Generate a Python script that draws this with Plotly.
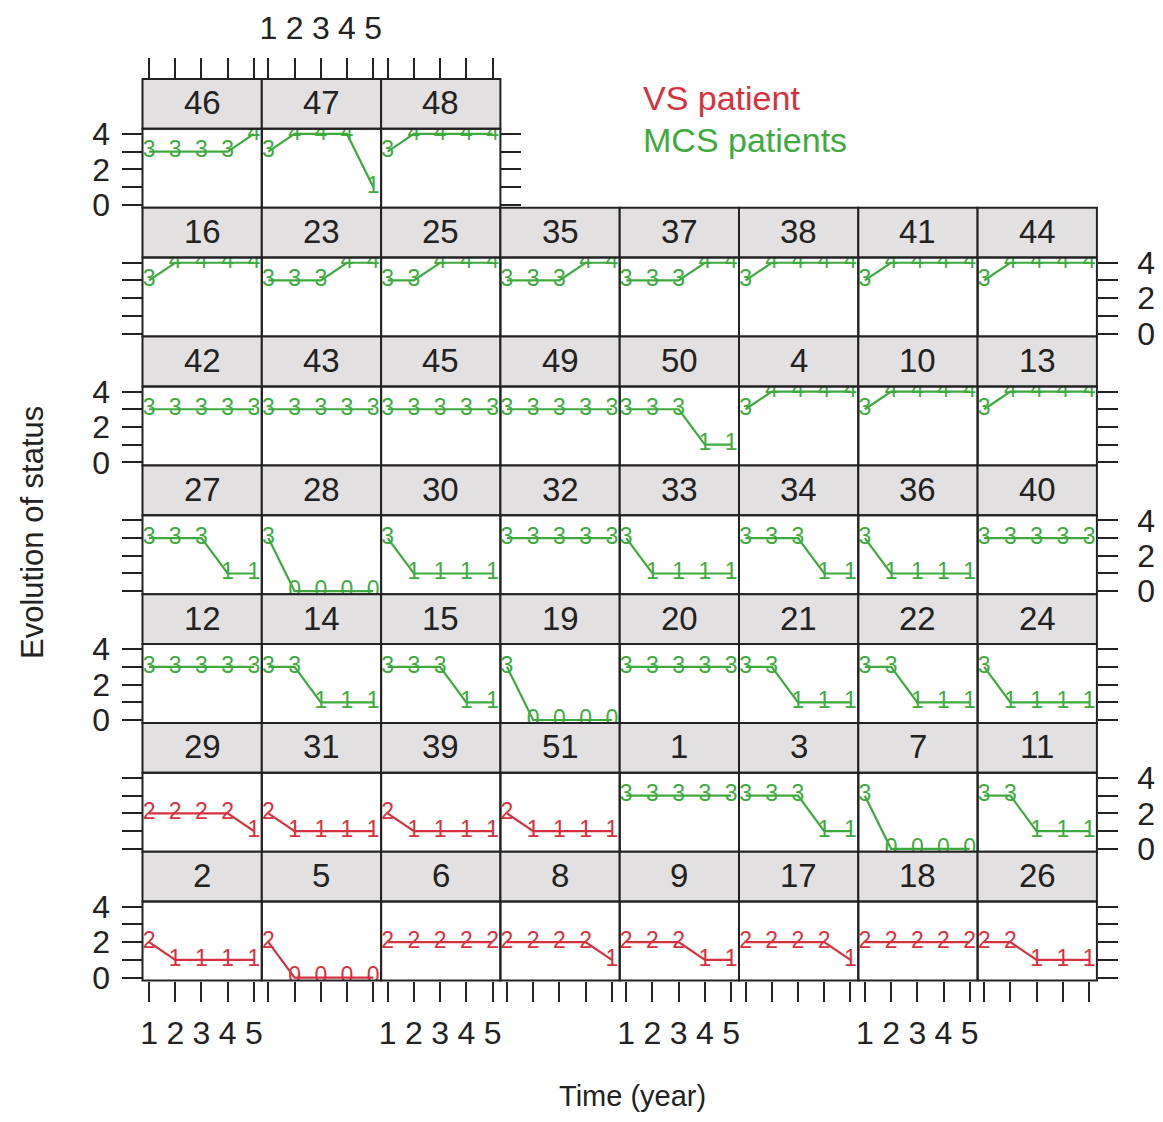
import plotly.graph_objects as go

# ---------------- data ----------------
years = [1, 2, 3, 4, 5]

panel_rows = [
    [46, 47, 48],
    [16, 23, 25, 35, 37, 38, 41, 44],
    [42, 43, 45, 49, 50, 4, 10, 13],
    [27, 28, 30, 32, 33, 34, 36, 40],
    [12, 14, 15, 19, 20, 21, 22, 24],
    [29, 31, 39, 51, 1, 3, 7, 11],
    [2, 5, 6, 8, 9, 17, 18, 26],
]

status = {
    46: [3, 3, 3, 3, 4], 47: [3, 4, 4, 4, 1], 48: [3, 4, 4, 4, 4],
    16: [3, 4, 4, 4, 4], 23: [3, 3, 3, 4, 4], 25: [3, 3, 4, 4, 4], 35: [3, 3, 3, 4, 4],
    37: [3, 3, 3, 4, 4], 38: [3, 4, 4, 4, 4], 41: [3, 4, 4, 4, 4], 44: [3, 4, 4, 4, 4],
    42: [3, 3, 3, 3, 3], 43: [3, 3, 3, 3, 3], 45: [3, 3, 3, 3, 3], 49: [3, 3, 3, 3, 3],
    50: [3, 3, 3, 1, 1], 4: [3, 4, 4, 4, 4], 10: [3, 4, 4, 4, 4], 13: [3, 4, 4, 4, 4],
    27: [3, 3, 3, 1, 1], 28: [3, 0, 0, 0, 0], 30: [3, 1, 1, 1, 1], 32: [3, 3, 3, 3, 3],
    33: [3, 1, 1, 1, 1], 34: [3, 3, 3, 1, 1], 36: [3, 1, 1, 1, 1], 40: [3, 3, 3, 3, 3],
    12: [3, 3, 3, 3, 3], 14: [3, 3, 1, 1, 1], 15: [3, 3, 3, 1, 1], 19: [3, 0, 0, 0, 0],
    20: [3, 3, 3, 3, 3], 21: [3, 3, 1, 1, 1], 22: [3, 3, 1, 1, 1], 24: [3, 1, 1, 1, 1],
    29: [2, 2, 2, 2, 1], 31: [2, 1, 1, 1, 1], 39: [2, 1, 1, 1, 1], 51: [2, 1, 1, 1, 1],
    1: [3, 3, 3, 3, 3], 3: [3, 3, 3, 1, 1], 7: [3, 0, 0, 0, 0], 11: [3, 3, 1, 1, 1],
    2: [2, 1, 1, 1, 1], 5: [2, 0, 0, 0, 0], 6: [2, 2, 2, 2, 2], 8: [2, 2, 2, 2, 1],
    9: [2, 2, 2, 1, 1], 17: [2, 2, 2, 2, 1], 18: [2, 2, 2, 2, 2], 26: [2, 2, 1, 1, 1],
}

vs_patients = [29, 31, 39, 51, 2, 5, 6, 8, 9, 17, 18, 26]

y_tickvals = [0, 1, 2, 3, 4]
y_ticktext = ["0", "", "2", "", "4"]
x_ticktext = ["1", "2", "3", "4", "5"]

legend_labels = ["VS patient", "MCS patients"]
x_title = "Time (year)"
y_title = "Evolution of status"

# ---------------- style / layout ----------------
OFF = 8  # page body margin
W, H = 1163 - 2 * OFF, 1122 - 2 * OFF
FONT = "Liberation Sans, Arial, sans-serif"
RED = "#d6313e"
GREEN = "#3eaa3e"
STRIP = "#e2e0e0"
INK = "#222"


def px(xp):
    return (xp - OFF) / W


def py(yp):
    return 1 - (yp - OFF) / H


col_left0, col_w = 142.5, 119.3
row_top0, row_h, strip_h = 79.0, 128.8, 49.8
plot_h = row_h - strip_h

x_rng = [0.75, 5.3]
y_lo, y_hi = -0.17, 4.29
y_hi_ext = y_hi + strip_h * (y_hi - y_lo) / plot_h

fig = go.Figure()
layout_axes = {}
shapes = []
annotations = []

idx = 0
n_rows = len(panel_rows)
for r, ids in enumerate(panel_rows):
    for c, pid in enumerate(ids):
        idx += 1
        left = col_left0 + c * col_w
        right = left + col_w
        top = row_top0 + r * row_h
        sbot = top + strip_h
        bot = top + row_h
        sfx = "" if idx == 1 else str(idx)

        color = RED if pid in vs_patients else GREEN
        vals = status[pid]
        fig.add_trace(go.Scatter(
            x=years, y=vals, mode="lines+text",
            text=[str(v) for v in vals], textposition="middle center",
            textfont=dict(family=FONT, size=23, color=color),
            line=dict(color=color, width=2.2),
            xaxis="x" + sfx, yaxis="y" + sfx,
            showlegend=False, hoverinfo="skip", cliponaxis=True,
        ))

        xa = dict(domain=[px(left), px(right)], range=x_rng, anchor="y" + sfx,
                  automargin=False, showgrid=False, zeroline=False, showline=False,
                  tickvals=years, ticktext=x_ticktext,
                  tickfont=dict(family=FONT, size=32, color=INK),
                  ticklen=20, tickwidth=2, tickcolor=INK, ticks="",
                  showticklabels=False, ticklabelstandoff=4)
        if r == n_rows - 1:
            xa.update(side="bottom", ticks="outside", showticklabels=(c % 2 == 0),
                      ticklabelstandoff=4)
        elif r == 0:
            xa.update(side="top", ticks="outside", showticklabels=(c % 2 == 1),
                      ticklabelstandoff=6)

        ya = dict(domain=[py(bot), py(top)], range=[y_lo, y_hi_ext],
                  anchor="x" + sfx, automargin=False,
                  showgrid=False, zeroline=False, showline=False,
                  tickvals=y_tickvals, ticktext=y_ticktext,
                  tickfont=dict(family=FONT, size=32, color=INK),
                  ticklen=20, tickwidth=2, tickcolor=INK, ticks="",
                  showticklabels=False, ticklabelstandoff=5)
        if c == 0:
            ya.update(side="left", ticks="outside", showticklabels=(r % 2 == 0),
                      ticklabelstandoff=5)
        elif c == len(ids) - 1:
            ya.update(side="right", ticks="outside", showticklabels=(r % 2 == 1),
                      ticklabelstandoff=13)

        layout_axes["xaxis" + sfx] = xa
        layout_axes["yaxis" + sfx] = ya

        shapes.append(dict(type="rect", xref="paper", yref="paper",
                           x0=px(left), x1=px(right), y0=py(sbot), y1=py(top),
                           fillcolor=STRIP, line=dict(color=INK, width=2), layer="above"))
        shapes.append(dict(type="rect", xref="paper", yref="paper",
                           x0=px(left), x1=px(right), y0=py(bot), y1=py(sbot),
                           fillcolor="rgba(0,0,0,0)", line=dict(color=INK, width=2),
                           layer="above"))
        annotations.append(dict(xref="paper", yref="paper",
                                x=px((left + right) / 2), y=py(top + strip_h / 2 - 1),
                                text=str(pid), showarrow=False, xanchor="center",
                                yanchor="middle",
                                font=dict(family=FONT, size=33, color=INK)))

annotations.append(dict(xref="paper", yref="paper", x=px(641), y=py(98),
                        text=legend_labels[0], showarrow=False, xanchor="left",
                        yanchor="middle", font=dict(family=FONT, size=34, color=RED)))
annotations.append(dict(xref="paper", yref="paper", x=px(641), y=py(140),
                        text=legend_labels[1], showarrow=False, xanchor="left",
                        yanchor="middle", font=dict(family=FONT, size=34, color=GREEN)))
annotations.append(dict(xref="paper", yref="paper", x=px(632), y=0,
                        text=x_title, showarrow=False, xanchor="center",
                        yanchor="bottom", font=dict(family=FONT, size=29, color=INK)))
annotations.append(dict(xref="paper", yref="paper", x=px(32), y=py(533),
                        text=y_title, showarrow=False, xanchor="center", textangle=-90,
                        yanchor="middle", font=dict(family=FONT, size=31, color=INK)))

fig.update_layout(
    template="none",
    width=W, height=H, margin=dict(l=0, r=0, t=0, b=0, pad=0, autoexpand=False),
    paper_bgcolor="white", plot_bgcolor="white",
    shapes=shapes, annotations=annotations, showlegend=False,
    **layout_axes,
)

fig.write_html("out.html")
